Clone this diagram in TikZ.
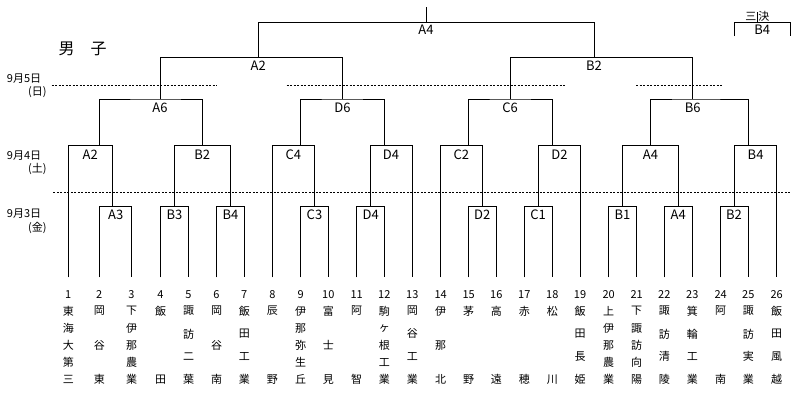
\documentclass[tikz,border=0pt]{standalone}
\usepackage{fontspec}
\setmainfont{Noto Sans CJK JP}
\usepackage{tikz}

\begin{document}
\begin{tikzpicture}[x=1pt,y=-1pt]
    \tikzset{bracket/.style = {line width=1pt}}
    \tikzset{dayline/.style = {line width=1pt, dash pattern=on 2pt off 1.5pt}}
    \tikzset{lbl/.style = {inner sep=0pt, font=\fontsize{13}{13}\selectfont}}
    \tikzset{num/.style = {inner sep=0pt, font=\fontsize{11}{11}\selectfont}}
    \tikzset{kanji/.style = {inner sep=0pt, font=\fontsize{11}{11}\selectfont}}
    \tikzset{datelbl/.style = {inner sep=0pt, anchor=west, font=\fontsize{11}{11}\selectfont}}

    \useasboundingbox (0,0) rectangle (801,400);

    % title and dates
    \node[inner sep=0pt, font=\fontsize{16}{16}\selectfont] (title) at (82.7,49) {男　子};
    \node[datelbl] (d5) at (6.7,79) {9月5日};
    \node[datelbl] (d5w) at (28,92) {(日)};
    \node[datelbl] (d4) at (6.7,155.3) {9月4日};
    \node[datelbl] (d4w) at (28,169) {(土)};
    \node[datelbl] (d3) at (6.7,213.7) {9月3日};
    \node[datelbl] (d3w) at (28,228) {(金)};

    % day separators
    \draw[dayline] (51.7,85) -- (216.7,85);
    \draw[dayline] (286.7,85) -- (565,85);
    \draw[dayline] (636,85) -- (721.7,85);
    \draw[dayline] (53.3,192.3) -- (791.7,192.3);

    % teams
    \foreach \i/\x/\n/\chars in {
        1/68.3/5/{東,海,大,第,三}, 2/99.3/3/{岡,谷,東}, 3/131.5/5/{下,伊,那,農,業},
        4/160.5/2/{飯,田}, 5/188.5/4/{諏,訪,二,葉}, 6/216.5/3/{岡,谷,南},
        7/244.3/4/{飯,田,工,業}, 8/272.3/2/{辰,野}, 9/300.7/5/{伊,那,弥,生,丘},
        10/328.3/3/{富,士,見}, 11/356.7/2/{阿,智}, 12/384.3/5/{駒,ヶ,根,工,業},
        13/412.3/4/{岡,谷,工,業}, 14/440.7/3/{伊,那,北}, 15/468.7/2/{茅,野},
        16/496.3/2/{高,遠}, 17/524.3/2/{赤,穂}, 18/552.3/2/{松,川},
        19/580/4/{飯,田,長,姫}, 20/608.7/5/{上,伊,那,農,業}, 21/636.7/5/{下,諏,訪,向,陽},
        22/664.3/4/{諏,訪,清,陵}, 23/692.3/4/{箕,輪,工,業}, 24/720.7/2/{阿,南},
        25/748.3/4/{諏,訪,実,業}, 26/776.7/4/{飯,田,風,越}} {
        \node[num] (t\i) at (\x,294.7) {\i};
        \coordinate (e\i) at (\x,277.3);
        \foreach \c [count=\j] in \chars
            \node[kanji] (t\i-\j) at (\x,{311+(\j-1)*68.5/(\n-1)}) {\c};
    }

    % junctions, 9/3
    \coordinate (j1a3) at (112.3,206.7);
    \coordinate (j1b3) at (174.3,206.7);
    \coordinate (j1b4) at (230,206.7);
    \coordinate (j1c3) at (314.3,206.7);
    \coordinate (j1d4) at (370.7,206.7);
    \coordinate (j1d2) at (482.3,206.7);
    \coordinate (j1c1) at (538.7,206.7);
    \coordinate (j1b1) at (622.3,206.7);
    \coordinate (j1a4) at (678.3,206.7);
    \coordinate (j1b2) at (734.7,206.7);
    % junctions, 9/4
    \coordinate (j2a2) at (99.3,145.7);
    \coordinate (j2b2) at (202.3,145.7);
    \coordinate (j2c4) at (300.7,145.7);
    \coordinate (j2d4) at (384.3,145.7);
    \coordinate (j2c2) at (468.7,145.7);
    \coordinate (j2d2) at (552.3,145.7);
    \coordinate (j2a4) at (650,145.7);
    \coordinate (j2b4) at (748.3,145.7);
    % junctions, 9/5
    \coordinate (j3a6) at (160.3,99);
    \coordinate (j3d6) at (342.3,99);
    \coordinate (j3c6) at (510.3,99);
    \coordinate (j3b6) at (692.7,99);
    \coordinate (j4a2) at (258,57.3);
    \coordinate (j4b2) at (594,57.3);
    \coordinate (j5a4) at (426,22.3);
    \coordinate (top) at (426,7);
    % third place
    \coordinate (j3rd) at (757.3,22.7);
    \coordinate (q1) at (734.7,36);
    \coordinate (q2) at (790.7,36);
    \coordinate (qtop) at (757.3,12);

    % brackets
    \draw[bracket] (e2) |- (j1a3) -| (e3);
    \draw[bracket] (e4) |- (j1b3) -| (e5);
    \draw[bracket] (e6) |- (j1b4) -| (e7);
    \draw[bracket] (e9) |- (j1c3) -| (e10);
    \draw[bracket] (e11) |- (j1d4) -| (e12);
    \draw[bracket] (e15) |- (j1d2) -| (e16);
    \draw[bracket] (e17) |- (j1c1) -| (e18);
    \draw[bracket] (e20) |- (j1b1) -| (e21);
    \draw[bracket] (e22) |- (j1a4) -| (e23);
    \draw[bracket] (e24) |- (j1b2) -| (e25);

    \draw[bracket] (e1) |- (j2a2) -| (j1a3);
    \draw[bracket] (j1b3) |- (j2b2) -| (j1b4);
    \draw[bracket] (e8) |- (j2c4) -| (j1c3);
    \draw[bracket] (j1d4) |- (j2d4) -| (e13);
    \draw[bracket] (e14) |- (j2c2) -| (j1d2);
    \draw[bracket] (j1c1) |- (j2d2) -| (e19);
    \draw[bracket] (j1b1) |- (j2a4) -| (j1a4);
    \draw[bracket] (j1b2) |- (j2b4) -| (e26);

    \draw[bracket] (j2a2) |- (j3a6) -| (j2b2);
    \draw[bracket] (j2c4) |- (j3d6) -| (j2d4);
    \draw[bracket] (j2c2) |- (j3c6) -| (j2d2);
    \draw[bracket] (j2a4) |- (j3b6) -| (j2b4);

    \draw[bracket] (j3a6) |- (j4a2) -| (j3d6);
    \draw[bracket] (j3c6) |- (j4b2) -| (j3b6);

    \draw[bracket] (j4a2) |- (j5a4) -| (j4b2);
    \draw[bracket] (j5a4) -- (top);

    \draw[bracket] (q1) |- (j3rd) -| (q2);
    \draw[bracket] (j3rd) -- (qtop);

    % match labels
    \node[lbl] (r1a3) at (115.8,214.7) {A3};
    \node[lbl] (r1b3) at (174.5,214.7) {B3};
    \node[lbl] (r1b4) at (230.5,214.7) {B4};
    \node[lbl] (r1c3) at (314.5,214.7) {C3};
    \node[lbl] (r1d4) at (370.7,214.7) {D4};
    \node[lbl] (r1d2) at (482.3,214.7) {D2};
    \node[lbl] (r1c1) at (538,214.7) {C1};
    \node[lbl] (r1b1) at (622.5,214.7) {B1};
    \node[lbl] (r1a4) at (678.3,214.7) {A4};
    \node[lbl] (r1b2) at (734,214.7) {B2};

    \node[lbl] (r2a2) at (90.3,155) {A2};
    \node[lbl] (r2b2) at (202.2,155) {B2};
    \node[lbl] (r2c4) at (293.3,155) {C4};
    \node[lbl] (r2d4) at (391,155) {D4};
    \node[lbl] (r2c2) at (461.3,155) {C2};
    \node[lbl] (r2d2) at (559.4,155) {D2};
    \node[lbl] (r2a4) at (650.4,155) {A4};
    \node[lbl] (r2b4) at (755.6,155) {B4};

    \node[lbl] (r3a6) at (160,108) {A6};
    \node[lbl] (r3d6) at (342.5,108) {D6};
    \node[lbl] (r3c6) at (510,108) {C6};
    \node[lbl] (r3b6) at (692.7,108) {B6};

    \node[lbl] (r4a2) at (258.3,65.3) {A2};
    \node[lbl] (r4b2) at (594,65.3) {B2};

    \node[lbl] (r5a4) at (426,29.7) {A4};

    \node[lbl] (r3rd) at (762.3,29.7) {B4};
    \node[kanji] (sanketsu) at (757.3,16) {三\hspace{2pt}決};
\end{tikzpicture}
\end{document}
